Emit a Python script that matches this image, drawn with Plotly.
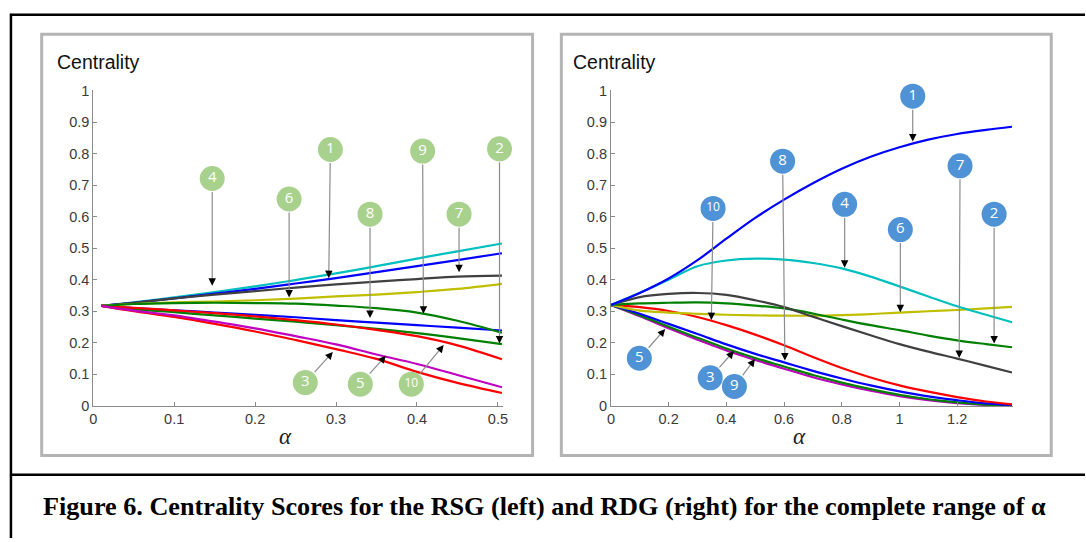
import plotly.graph_objects as go

W, H = 1086, 542

# ---------------- data: left panel (RSG) ----------------
L_x = [0.01, 0.05, 0.1, 0.15, 0.2, 0.25, 0.3, 0.35, 0.4, 0.45, 0.505]
L_cyan    = [0.317, 0.328, 0.344, 0.361, 0.379, 0.399, 0.420, 0.443, 0.467, 0.490, 0.515]
L_blue    = [0.317, 0.327, 0.341, 0.356, 0.371, 0.388, 0.405, 0.424, 0.443, 0.462, 0.484]
L_black   = [0.317, 0.327, 0.341, 0.353, 0.364, 0.375, 0.385, 0.394, 0.402, 0.410, 0.413]
L_yellow  = [0.317, 0.323, 0.328, 0.331, 0.335, 0.340, 0.347, 0.353, 0.361, 0.371, 0.387]
L_green1  = [0.317, 0.323, 0.326, 0.327, 0.326, 0.324, 0.318, 0.310, 0.296, 0.270, 0.232]
L_blue2   = [0.317, 0.310, 0.303, 0.296, 0.289, 0.281, 0.272, 0.264, 0.256, 0.248, 0.239]
L_red1    = [0.317, 0.311, 0.303, 0.294, 0.284, 0.272, 0.258, 0.241, 0.221, 0.192, 0.148]
L_green2  = [0.317, 0.307, 0.297, 0.287, 0.277, 0.267, 0.256, 0.244, 0.231, 0.215, 0.196]
L_magenta = [0.317, 0.302, 0.287, 0.267, 0.246, 0.221, 0.195, 0.163, 0.133, 0.098, 0.059]
L_red2    = [0.317, 0.300, 0.282, 0.260, 0.236, 0.209, 0.180, 0.149, 0.108, 0.073, 0.041]

L_lab = ["4", "6", "1", "8", "9", "7", "2", "3", "5", "10"]
L_cx = [0.147, 0.242, 0.293, 0.342, 0.407, 0.452, 0.502, 0.262, 0.330, 0.393]
L_cy = [0.721, 0.656, 0.813, 0.608, 0.808, 0.608, 0.815, 0.074, 0.069, 0.069]
L_tx = [0.147, 0.242, 0.291, 0.342, 0.408, 0.452, 0.502, 0.296, 0.3615, 0.433]
L_ty = [0.381, 0.344, 0.405, 0.279, 0.292, 0.424, 0.198, 0.171, 0.159, 0.193]

# ---------------- data: right panel (RDG) ----------------
R_x = [0, 0.1, 0.2, 0.3, 0.4, 0.5, 0.6, 0.7, 0.8, 0.9, 1.0, 1.1, 1.2, 1.3, 1.39]
R_blue    = [0.32, 0.358, 0.404, 0.462, 0.530, 0.596, 0.654, 0.706, 0.752, 0.790, 0.820, 0.844, 0.862, 0.875, 0.885]
R_cyan    = [0.32, 0.359, 0.400, 0.443, 0.461, 0.467, 0.464, 0.453, 0.436, 0.410, 0.379, 0.347, 0.316, 0.289, 0.265]
R_black   = [0.32, 0.345, 0.355, 0.358, 0.352, 0.335, 0.313, 0.283, 0.253, 0.224, 0.196, 0.172, 0.150, 0.127, 0.106]
R_green1  = [0.32, 0.325, 0.327, 0.328, 0.325, 0.318, 0.309, 0.293, 0.274, 0.256, 0.240, 0.223, 0.208, 0.196, 0.186]
R_yellow  = [0.32, 0.302, 0.296, 0.292, 0.289, 0.287, 0.286, 0.286, 0.288, 0.291, 0.296, 0.300, 0.304, 0.309, 0.314]
R_red     = [0.32, 0.313, 0.301, 0.282, 0.256, 0.226, 0.192, 0.155, 0.120, 0.090, 0.065, 0.045, 0.028, 0.014, 0.005]
R_blue2   = [0.32, 0.292, 0.260, 0.228, 0.195, 0.165, 0.138, 0.111, 0.087, 0.065, 0.046, 0.030, 0.018, 0.008, 0.003]
R_green2  = [0.32, 0.287, 0.251, 0.216, 0.182, 0.152, 0.125, 0.098, 0.074, 0.053, 0.035, 0.021, 0.011, 0.004, 0.001]
R_magenta = [0.32, 0.284, 0.246, 0.210, 0.176, 0.146, 0.118, 0.091, 0.068, 0.048, 0.031, 0.018, 0.009, 0.003, 0.001]

R_lab = ["1", "8", "7", "10", "4", "6", "2", "5", "3", "9"]
R_cx = [1.046, 0.595, 1.210, 0.354, 0.810, 1.003, 1.328, 0.0985, 0.344, 0.428]
R_cy = [0.982, 0.776, 0.761, 0.626, 0.639, 0.559, 0.608, 0.151, 0.089, 0.0615]
R_tx = [1.046, 0.603, 1.207, 0.348, 0.810, 1.003, 1.328, 0.188, 0.426, 0.499]
R_ty = [0.838, 0.144, 0.152, 0.272, 0.438, 0.297, 0.198, 0.244, 0.174, 0.149]

# ticks
Y_ticks = [0, 0.1, 0.2, 0.3, 0.4, 0.5, 0.6, 0.7, 0.8, 0.9, 1]
Y_text = ["0", "0.1", "0.2", "0.3", "0.4", "0.5", "0.6", "0.7", "0.8", "0.9", "1"]
L_xticks = [0, 0.1, 0.2, 0.3, 0.4, 0.5]
L_xtext = ["0", "0.1", "0.2", "0.3", "0.4", "0.5"]
R_xticks = [0, 0.2, 0.4, 0.6, 0.8, 1.0, 1.2]
R_xtext = ["0", "0.2", "0.4", "0.6", "0.8", "1", "1.2"]

CAPTION = "Figure 6. Centrality Scores for the RSG (left) and RDG (right) for the complete range of α"

# colours
C_BLUE, C_GREEN, C_RED = "#0000ff", "#008000", "#ff0000"
C_CYAN, C_MAG, C_YEL, C_BLK = "#00bfbf", "#bf00bf", "#bfbf00", "#404040"
C_GCIRC, C_BCIRC = "#a9d18e", "#4f93d6"

# ---------------- geometry (page pixels -> paper) ----------------
def px(x): return x / W
def py(y): return 1 - y / H

L_dom = [px(90), px(503)]
L_rng = [0, 0.5061]
R_dom = [px(612), px(1017)]
R_rng = [0, 1.392]
Y_dom = [py(410), py(85)]
Y_rng = [0, 1.0]

fig = go.Figure()

def add_curves(xs, series, xa, ya):
    for ys, col in series:
        fig.add_trace(go.Scatter(x=xs, y=ys, mode="lines", xaxis=xa, yaxis=ya,
                                 line=dict(color=col, width=2.2, shape="spline", smoothing=1.0),
                                 showlegend=False, hoverinfo="skip"))

add_curves(L_x, [(L_cyan, C_CYAN), (L_blue, C_BLUE), (L_black, C_BLK), (L_yellow, C_YEL),
                 (L_blue2, C_BLUE), (L_green2, C_GREEN), (L_red1, C_RED), (L_green1, C_GREEN),
                 (L_red2, C_RED), (L_magenta, C_MAG)], "x", "y")
add_curves(R_x, [(R_magenta, C_MAG), (R_green2, C_GREEN), (R_blue2, C_BLUE), (R_red, C_RED),
                 (R_yellow, C_YEL), (R_green1, C_GREEN), (R_black, C_BLK), (R_cyan, C_CYAN),
                 (R_blue, C_BLUE)], "x2", "y2")

annotations = []

def add_callouts(labs, cx, cy, tx, ty, xa, ya, dom, rng, col):
    sx = (dom[1] - dom[0]) * W / (rng[1] - rng[0])
    sy = (Y_dom[1] - Y_dom[0]) * H / (Y_rng[1] - Y_rng[0])
    for i in range(len(labs)):
        dxp = (cx[i] - tx[i]) * sx
        dyp = -(cy[i] - ty[i]) * sy
        n = (dxp ** 2 + dyp ** 2) ** 0.5
        ux, uy = dxp / n, dyp / n
        # grey shaft
        annotations.append(dict(x=tx[i], y=ty[i], ax=cx[i], ay=cy[i], xref=xa, yref=ya,
                                axref=xa, ayref=ya, text="", showarrow=True, arrowhead=0,
                                arrowwidth=1.2, arrowcolor="#8c8c8c", standoff=6, startstandoff=12))
        # black head
        annotations.append(dict(x=tx[i], y=ty[i], ax=ux * 8, ay=uy * 8, xref=xa, yref=ya,
                                text="", showarrow=True, arrowhead=2, arrowsize=1.5,
                                arrowwidth=1, arrowcolor="#000000"))
    fig.add_trace(go.Scatter(x=cx, y=cy, xaxis=xa, yaxis=ya, mode="markers+text", text=labs,
                             textposition="middle center", cliponaxis=False,
                             marker=dict(size=25, color=col, line=dict(width=0)),
                             textfont=dict(color="white", size=[12 if len(t) > 1 else 15 for t in labs],
                                           family="Open Sans"),
                             showlegend=False, hoverinfo="skip"))

add_callouts(L_lab, L_cx, L_cy, L_tx, L_ty, "x", "y", L_dom, L_rng, C_GCIRC)
add_callouts(R_lab, R_cx, R_cy, R_tx, R_ty, "x2", "y2", R_dom, R_rng, C_BCIRC)

# text labels
TXT = "#3a3a3a"
for xl in (51, 572):
    annotations.append(dict(text="Centrality", x=px(xl), y=py(56), xref="paper", yref="paper",
                            xanchor="left", yanchor="middle", showarrow=False,
                            font=dict(family="Liberation Sans", size=19.5, color="#111111")))
for xc in (284, 802):
    annotations.append(dict(text="<i>α</i>", x=px(xc), y=py(442), xref="paper", yref="paper",
                            xanchor="center", yanchor="middle", showarrow=False,
                            font=dict(family="Liberation Serif", size=23, color="#222222")))
annotations.append(dict(text="<b>" + CAPTION + "</b>", x=px(37), y=py(514), xref="paper", yref="paper",
                        xanchor="left", yanchor="middle", showarrow=False,
                        font=dict(family="Liberation Serif", size=26.2, color="#000000")))

# frame shapes
shapes = [
    dict(type="line", xref="paper", yref="paper", x0=px(6), x1=px(1090), y0=py(7), y1=py(7),
         line=dict(color="black", width=2.5)),
    dict(type="line", xref="paper", yref="paper", x0=px(7), x1=px(7), y0=py(6), y1=py(546),
         line=dict(color="black", width=2.5)),
    dict(type="line", xref="paper", yref="paper", x0=px(6), x1=px(1090), y0=py(481), y1=py(481),
         line=dict(color="black", width=2.5)),
    dict(type="rect", xref="paper", yref="paper", x0=px(38), x1=px(533), y0=py(27), y1=py(461),
         line=dict(color="#b4b4b4", width=3)),
    dict(type="rect", xref="paper", yref="paper", x0=px(562), x1=px(1056), y0=py(27), y1=py(461),
         line=dict(color="#b4b4b4", width=3)),
]

axis_common = dict(showgrid=False, zeroline=False, showline=True, linecolor="#8a8a8a", linewidth=1,
                   ticks="inside", ticklen=4, tickwidth=1, tickcolor="#8a8a8a",
                   tickfont=dict(family="Liberation Sans", size=14.5, color=TXT), fixedrange=True)

fig.update_layout(
    width=W, height=H, autosize=False,
    margin=dict(l=0, r=0, t=0, b=0),
    paper_bgcolor="white", plot_bgcolor="white",
    xaxis=dict(domain=L_dom, range=L_rng, tickvals=L_xticks, ticktext=L_xtext, anchor="y", **axis_common),
    yaxis=dict(domain=Y_dom, range=Y_rng, tickvals=Y_ticks, ticktext=Y_text, anchor="x", **axis_common),
    xaxis2=dict(domain=R_dom, range=R_rng, tickvals=R_xticks, ticktext=R_xtext, anchor="y2", **axis_common),
    yaxis2=dict(domain=Y_dom, range=Y_rng, tickvals=Y_ticks, ticktext=Y_text, anchor="x2", **axis_common),
    annotations=annotations, shapes=shapes,
)

fig.write_html("out.html", config={"displayModeBar": False, "staticPlot": True},
               post_script="document.body.style.margin='0';document.body.style.overflow='hidden';")
